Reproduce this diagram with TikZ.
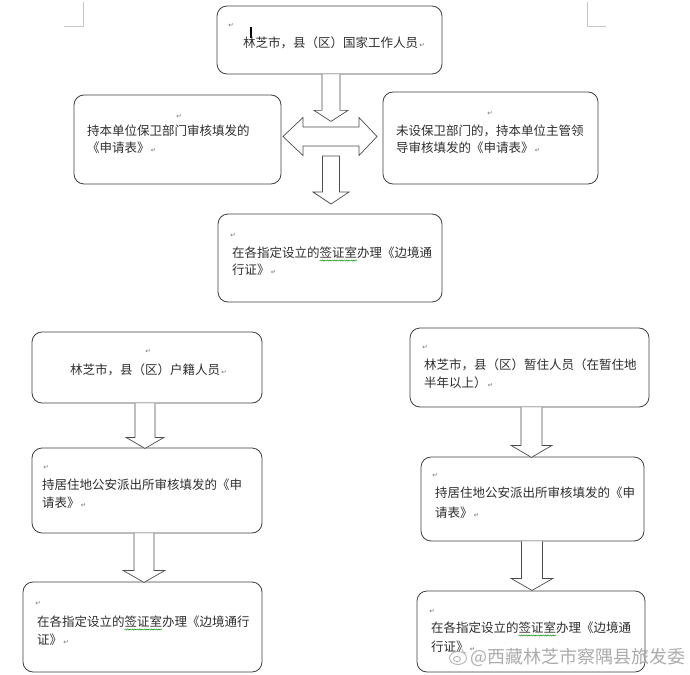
\documentclass[tikz,border=0pt]{standalone}
\usepackage{fontspec}
\newfontfamily\cjk{Noto Sans CJK SC}
\newfontfamily\symf{DejaVu Sans}
\usetikzlibrary{decorations.pathmorphing}
\tikzset{
  box/.style={draw=black!75, line width=0.8pt, rounded corners=10pt, inner sep=0pt},
  txt/.style={anchor=base west, inner sep=0pt, text=black!82, font=\cjk\fontsize{12.5}{15}\selectfont},
  pmark/.style={inner sep=0pt, text=black!55, font=\symf\fontsize{6.5}{7}\selectfont},
  barrow/.style={draw=black!70, line width=0.7pt, fill=white, line join=miter},
  wave/.style={draw=green!55!black, line width=0.45pt, decorate, decoration={snake, amplitude=0.6pt, segment length=2.4pt}},
  corner/.style={draw=black!22, line width=0.9pt},
  wm/.style={anchor=west, inner sep=0pt, text=black!38, font=\cjk\fontsize{18}{21}\selectfont}
}
\newcommand\rt{{\symf\fontsize{6.5}{7}\selectfont\color{black!55}\,↵}}
% #1 from node, #2 dx, #3 shaft length, #4 head length, #5 shaft half width, #6 head half width
\newcommand\blockdown[6]{%
  \draw[barrow] ([xshift={(#2-#5)*1pt}]#1.south) -- ++(0,#3) -- ++({#5-#6},0) -- ++(#6,#4) -- ++(#6,-#4) -- ++({#5-#6},0) -- ++(0,-#3);}
\begin{document}
\begin{tikzpicture}[x=1pt, y=-1pt]
\fill[white] (0,0) rectangle (690,674);
\useasboundingbox (0,0) rectangle (690,674);

% page corner marks
\draw[corner] (83,2) -- (83,26) -- (64,26);
\draw[corner] (587,2) -- (587,26) -- (606,26);

% ---------- upper flow ----------
\node[box, minimum width=225pt, minimum height=68pt] (top) at (329.5,40) {};
\node[box, minimum width=207pt, minimum height=89pt] (left) at (177.5,139.5) {};
\node[box, minimum width=215pt, minimum height=92pt] (right) at (490.5,138) {};
\node[box, minimum width=224pt, minimum height=88pt] (mid) at (330,258) {};

\node[pmark] (top-p) at (231,25) {↵};
\draw[line width=1.6pt, black] (251,27) -- (251,38);
\node[txt] (top-t) at (243,47.5) {林芝市，县（区）国家工作人员\rt};

\node[pmark] (left-p) at (179,116) {↵};
\node[txt] (left-t1) at (87,135.5) {持本单位保卫部门审核填发的};
\node[txt] (left-t2) at (87,152.5) {《申请表》\rt};

\node[pmark] (right-p) at (490,113) {↵};
\node[txt] (right-t1) at (396,135.5) {未设保卫部门的，持本单位主管领};
\node[txt] (right-t2) at (396,152.5) {导审核填发的《申请表》\rt};

\node[pmark] (mid-p) at (233,235) {↵};
\node[txt] (mid-t1) at (232,257.5) {在各指定设立的签证室办理《边境通};
\node[txt] (mid-t2) at (232,274.5) {行证》\rt};
\draw[wave] (319.5,260.5) -- (357,260.5);

% arrows of the upper flow
\blockdown{top}{1.5}{36}{11}{9}{17}
\coordinate (dbl) at (330,136.5);
\draw[barrow] (283,136.5) -- (303,117.5) -- (303,127) -- (359,127) -- (359,117.5) -- (377,136.5)
  -- (359,155.5) -- (359,146) -- (303,146) -- (303,155.5) -- cycle;
\draw[barrow] (322.5,156) -- (322.5,192) -- (313,192) -- (331,204) -- (349,192) -- (339.5,192) -- (339.5,156) -- cycle;

% ---------- lower left flow ----------
\node[box, minimum width=230pt, minimum height=71pt] (A) at (147,367.5) {};
\node[box, minimum width=230pt, minimum height=85pt] (B) at (147,490.5) {};
\node[box, minimum width=239pt, minimum height=90pt] (C) at (142.5,627) {};

\node[pmark] (A-p) at (148,351) {↵};
\node[txt] (A-t) at (70,374.5) {林芝市，县（区）户籍人员\rt};

\node[pmark] (B-p) at (46,467) {↵};
\node[txt] (B-t1) at (42,489.5) {持居住地公安派出所审核填发的《申};
\node[txt] (B-t2) at (42,507.5) {请表》\rt};

\node[pmark] (C-p) at (38,603) {↵};
\node[txt] (C-t1) at (37,626.5) {在各指定设立的签证室办理《边境通行};
\node[txt] (C-t2) at (37,644.5) {证》\rt};
\draw[wave] (124.5,629.5) -- (162,629.5);

\blockdown{A}{-2}{34}{11}{10}{19}
\blockdown{B}{-3}{37}{12}{10}{21}

% ---------- lower right flow ----------
\node[box, minimum width=239pt, minimum height=79pt] (D) at (529.5,367.5) {};
\node[box, minimum width=223pt, minimum height=84pt] (E) at (532.5,499) {};
\node[box, minimum width=228pt, minimum height=81pt] (F) at (531,631.5) {};

\node[pmark] (D-p) at (425,347) {↵};
\node[txt] (D-t1) at (424,369.5) {林芝市，县（区）暂住人员（在暂住地};
\node[txt] (D-t2) at (424,387.5) {半年以上）\rt};

\node[pmark] (E-p) at (435,475) {↵};
\node[txt] (E-t1) at (435,497.5) {持居住地公安派出所审核填发的《申};
\node[txt] (E-t2) at (435,517) {请表》\rt};

\node[pmark] (F-p) at (432,611) {↵};
\node[txt] (F-t1) at (431,632.5) {在各指定设立的签证室办理《边境通};
\node[txt] (F-t2) at (431,651) {行证》\rt};
\draw[wave] (518.5,635.5) -- (556,635.5);

\blockdown{D}{2}{38}{12}{10.5}{20.5}
\blockdown{E}{-0.5}{37}{12}{10.5}{21}

% ---------- watermark ----------
\begin{scope}[draw=black!35, line width=0.8pt, opacity=0.9]
  \draw (458,658) ellipse [x radius=8.5pt, y radius=6.5pt];
  \draw (457,659) ellipse [x radius=3.5pt, y radius=2.6pt];
  \draw (462,649) arc[start angle=180, end angle=270, radius=4pt];
\end{scope}
\node[wm, opacity=0.85] (wmark) at (470,657) {@西藏林芝市察隅县旅发委};
\end{tikzpicture}
\end{document}
